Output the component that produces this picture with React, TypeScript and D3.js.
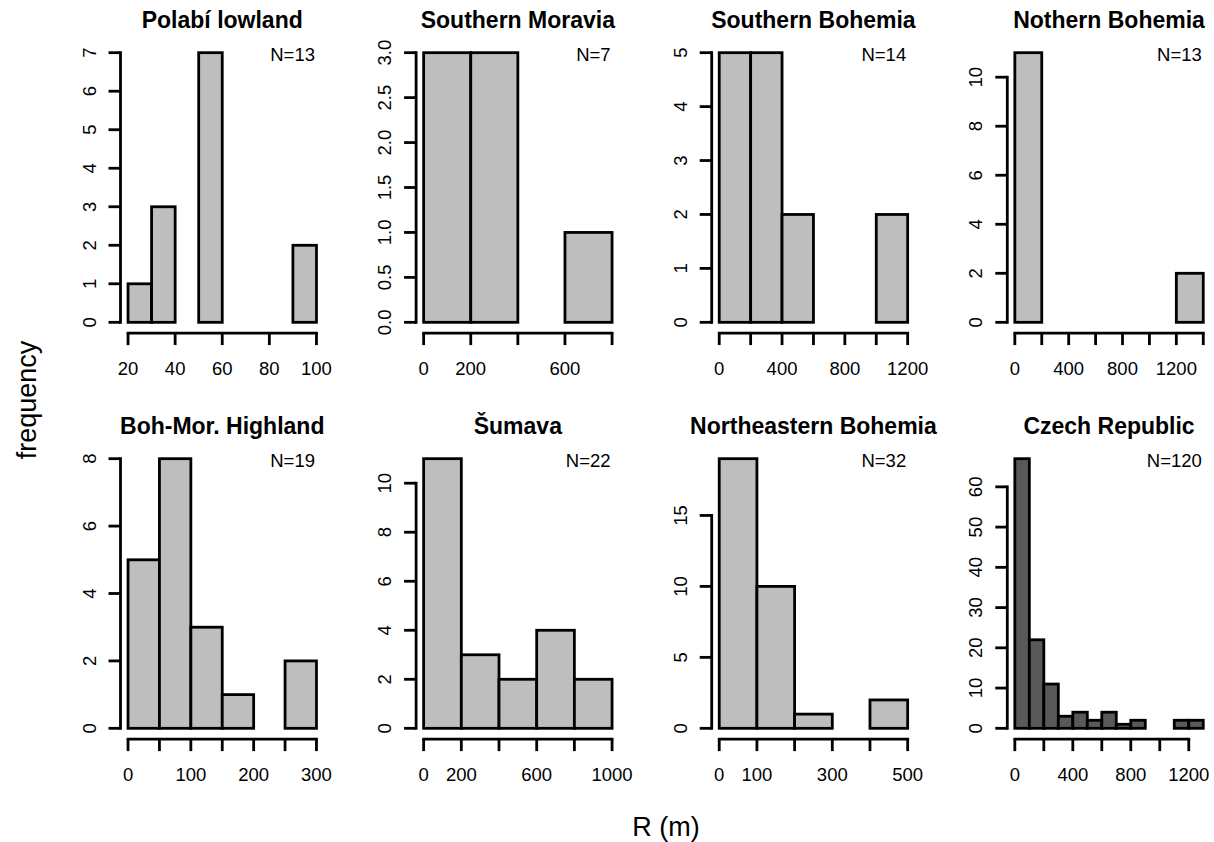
import React from "react";
import * as d3 from "d3";

// ---- data ----
const panelTitles = [
  "Polabí lowland",
  "Southern Moravia",
  "Southern Bohemia",
  "Nothern Bohemia",
  "Boh-Mor. Highland",
  "Šumava",
  "Northeastern Bohemia",
  "Czech Republic",
];
const sampleSizes = ["N=13", "N=7", "N=14", "N=13", "N=19", "N=22", "N=32", "N=120"];

// histogram breaks (first break, bin width) and counts per panel
const polabiBreaks = [20, 10];
const polabiCounts = [1, 3, 0, 7, 0, 0, 0, 2];
const moraviaBreaks = [0, 200];
const moraviaCounts = [3, 3, 0, 1];
const southBohBreaks = [0, 200];
const southBohCounts = [5, 5, 2, 0, 0, 2];
const northBohBreaks = [0, 200];
const northBohCounts = [11, 0, 0, 0, 0, 0, 2];
const highlandBreaks = [0, 50];
const highlandCounts = [5, 8, 3, 1, 0, 2];
const sumavaBreaks = [0, 200];
const sumavaCounts = [11, 3, 2, 4, 2];
const neBohBreaks = [0, 100];
const neBohCounts = [19, 10, 1, 0, 2];
const czechBreaks = [0, 100];
const czechCounts = [67, 22, 11, 3, 4, 2, 4, 1, 2, 0, 0, 2, 2];

// axis ticks
const polabiXTicks = [20, 40, 60, 80, 100];
const polabiXLabels = ["20", "40", "60", "80", "100"];
const moraviaXTicks = [0, 200, 400, 600, 800];
const moraviaXLabels = ["0", "200", "", "600", ""];
const southBohXTicks = [0, 200, 400, 600, 800, 1000, 1200];
const southBohXLabels = ["0", "", "400", "", "800", "", "1200"];
const northBohXTicks = [0, 200, 400, 600, 800, 1000, 1200, 1400];
const northBohXLabels = ["0", "", "400", "", "800", "", "1200", ""];
const highlandXTicks = [0, 50, 100, 150, 200, 250, 300];
const highlandXLabels = ["0", "", "100", "", "200", "", "300"];
const sumavaXTicks = [0, 200, 400, 600, 800, 1000];
const sumavaXLabels = ["0", "200", "", "600", "", "1000"];
const neBohXTicks = [0, 100, 200, 300, 400, 500];
const neBohXLabels = ["0", "100", "", "300", "", "500"];
const czechXTicks = [0, 200, 400, 600, 800, 1000, 1200];
const czechXLabels = ["0", "", "400", "", "800", "", "1200"];

const polabiYTicks = [0, 1, 2, 3, 4, 5, 6, 7];
const polabiYLabels = ["0", "1", "2", "3", "4", "5", "6", "7"];
const moraviaYTicks = [0, 0.5, 1, 1.5, 2, 2.5, 3];
const moraviaYLabels = ["0.0", "0.5", "1.0", "1.5", "2.0", "2.5", "3.0"];
const southBohYTicks = [0, 1, 2, 3, 4, 5];
const southBohYLabels = ["0", "1", "2", "3", "4", "5"];
const northBohYTicks = [0, 2, 4, 6, 8, 10];
const northBohYLabels = ["0", "2", "4", "6", "8", "10"];
const highlandYTicks = [0, 2, 4, 6, 8];
const highlandYLabels = ["0", "2", "4", "6", "8"];
const sumavaYTicks = [0, 2, 4, 6, 8, 10];
const sumavaYLabels = ["0", "2", "4", "6", "8", "10"];
const neBohYTicks = [0, 5, 10, 15];
const neBohYLabels = ["0", "5", "10", "15"];
const czechYTicks = [0, 10, 20, 30, 40, 50, 60];
const czechYLabels = ["0", "10", "20", "30", "40", "50", "60"];

const fills = ["#bebebe", "#bebebe", "#bebebe", "#bebebe", "#bebebe", "#bebebe", "#bebebe", "#595959"];

const panels = [
  { breaks: polabiBreaks, counts: polabiCounts, xt: polabiXTicks, xl: polabiXLabels, yt: polabiYTicks, yl: polabiYLabels },
  { breaks: moraviaBreaks, counts: moraviaCounts, xt: moraviaXTicks, xl: moraviaXLabels, yt: moraviaYTicks, yl: moraviaYLabels },
  { breaks: southBohBreaks, counts: southBohCounts, xt: southBohXTicks, xl: southBohXLabels, yt: southBohYTicks, yl: southBohYLabels },
  { breaks: northBohBreaks, counts: northBohCounts, xt: northBohXTicks, xl: northBohXLabels, yt: northBohYTicks, yl: northBohYLabels },
  { breaks: highlandBreaks, counts: highlandCounts, xt: highlandXTicks, xl: highlandXLabels, yt: highlandYTicks, yl: highlandYLabels },
  { breaks: sumavaBreaks, counts: sumavaCounts, xt: sumavaXTicks, xl: sumavaXLabels, yt: sumavaYTicks, yl: sumavaYLabels },
  { breaks: neBohBreaks, counts: neBohCounts, xt: neBohXTicks, xl: neBohXLabels, yt: neBohYTicks, yl: neBohYLabels },
  { breaks: czechBreaks, counts: czechCounts, xt: czechXTicks, xl: czechXLabels, yt: czechYTicks, yl: czechYLabels },
];

// ---- layout ----
const W = 1214;
const H = 842;
const PLOT_LEFT0 = 120.5;
const COL_STEP = 295.6;
const PLOT_W = 203.5;
const PLOT_TOP0 = 41.9;
const ROW_STEP = 406;
const PLOT_H = 291.2;
const FONT = "'Liberation Sans', Arial, Helvetica, sans-serif";
const SW = 2.8;

function Panel({ idx }: { idx: number }) {
  const p = panels[idx];
  const col = idx % 4;
  const row = Math.floor(idx / 4);
  const left = PLOT_LEFT0 + col * COL_STEP;
  const top = PLOT_TOP0 + row * ROW_STEP;
  const right = left + PLOT_W;
  const bottom = top + PLOT_H;

  const [b0, bw] = p.breaks;
  const bEnd = b0 + bw * p.counts.length;
  const xr = (bEnd - b0) * 0.04;
  const x = d3.scaleLinear().domain([b0 - xr, bEnd + xr]).range([left, right]);
  const yMax = d3.max(p.counts) as number;
  const yr = yMax * 0.04;
  const y = d3.scaleLinear().domain([-yr, yMax + yr]).range([bottom, top]);

  const bins = p.counts.map((c, i) => ({ x0: b0 + i * bw, x1: b0 + (i + 1) * bw, c }));

  const xt0 = x(p.xt[0]);
  const xt1 = x(p.xt[p.xt.length - 1]);
  const yt0 = y(p.yt[0]);
  const yt1 = y(p.yt[p.yt.length - 1]);

  return (
    <g>
      {bins.map((b, i) => (
        <rect
          key={i}
          x={x(b.x0)}
          y={y(b.c)}
          width={x(b.x1) - x(b.x0)}
          height={y(0) - y(b.c)}
          fill={fills[idx]}
          stroke="#000"
          strokeWidth={SW}
        />
      ))}
      {/* x axis */}
      <line x1={xt0} x2={xt1} y1={bottom} y2={bottom} stroke="#000" strokeWidth={SW} strokeLinecap="square" />
      {p.xt.map((t, i) => (
        <g key={"xt" + i}>
          <line x1={x(t)} x2={x(t)} y1={bottom} y2={bottom + 12} stroke="#000" strokeWidth={SW} />
          {p.xl[i] !== "" && (
            <text x={x(t)} y={bottom + 42} textAnchor="middle" fontSize={18.5} fontFamily={FONT} fill="#000">
              {p.xl[i]}
            </text>
          )}
        </g>
      ))}
      {/* y axis */}
      <line x1={left} x2={left} y1={yt0} y2={yt1} stroke="#000" strokeWidth={SW} strokeLinecap="square" />
      {p.yt.map((t, i) => (
        <g key={"yt" + i}>
          <line x1={left - 12} x2={left} y1={y(t)} y2={y(t)} stroke="#000" strokeWidth={SW} />
          <text
            transform={`translate(${left - 25},${y(t)}) rotate(-90)`}
            textAnchor="middle"
            fontSize={18.5}
            fontFamily={FONT}
            fill="#000"
          >
            {p.yl[i]}
          </text>
        </g>
      ))}
      {/* title */}
      <text
        x={(left + right) / 2}
        y={top - 14}
        textAnchor="middle"
        fontSize={23}
        fontWeight="bold"
        fontFamily={FONT}
        fill="#000"
      >
        {panelTitles[idx]}
      </text>
      <text x={right - 9} y={top + 19.5} textAnchor="end" fontSize={18.5} fontFamily={FONT} fill="#000">
        {sampleSizes[idx]}
      </text>
    </g>
  );
}

export default function App() {
  return (
    <svg
      width={W}
      height={H}
      viewBox={`0 0 ${W} ${H}`}
      style={{ position: "absolute", left: 0, top: 0, background: "#fff" }}
    >
      <rect x={0} y={0} width={W} height={H} fill="#fff" />
      {panels.map((_, i) => (
        <Panel key={i} idx={i} />
      ))}
      <text
        transform={`translate(36,400) rotate(-90)`}
        textAnchor="middle"
        fontSize={27}
        fontFamily={FONT}
        fill="#000"
      >
        frequency
      </text>
      <text x={666} y={836} textAnchor="middle" fontSize={27} fontFamily={FONT} fill="#000">
        R (m)
      </text>
    </svg>
  );
}
